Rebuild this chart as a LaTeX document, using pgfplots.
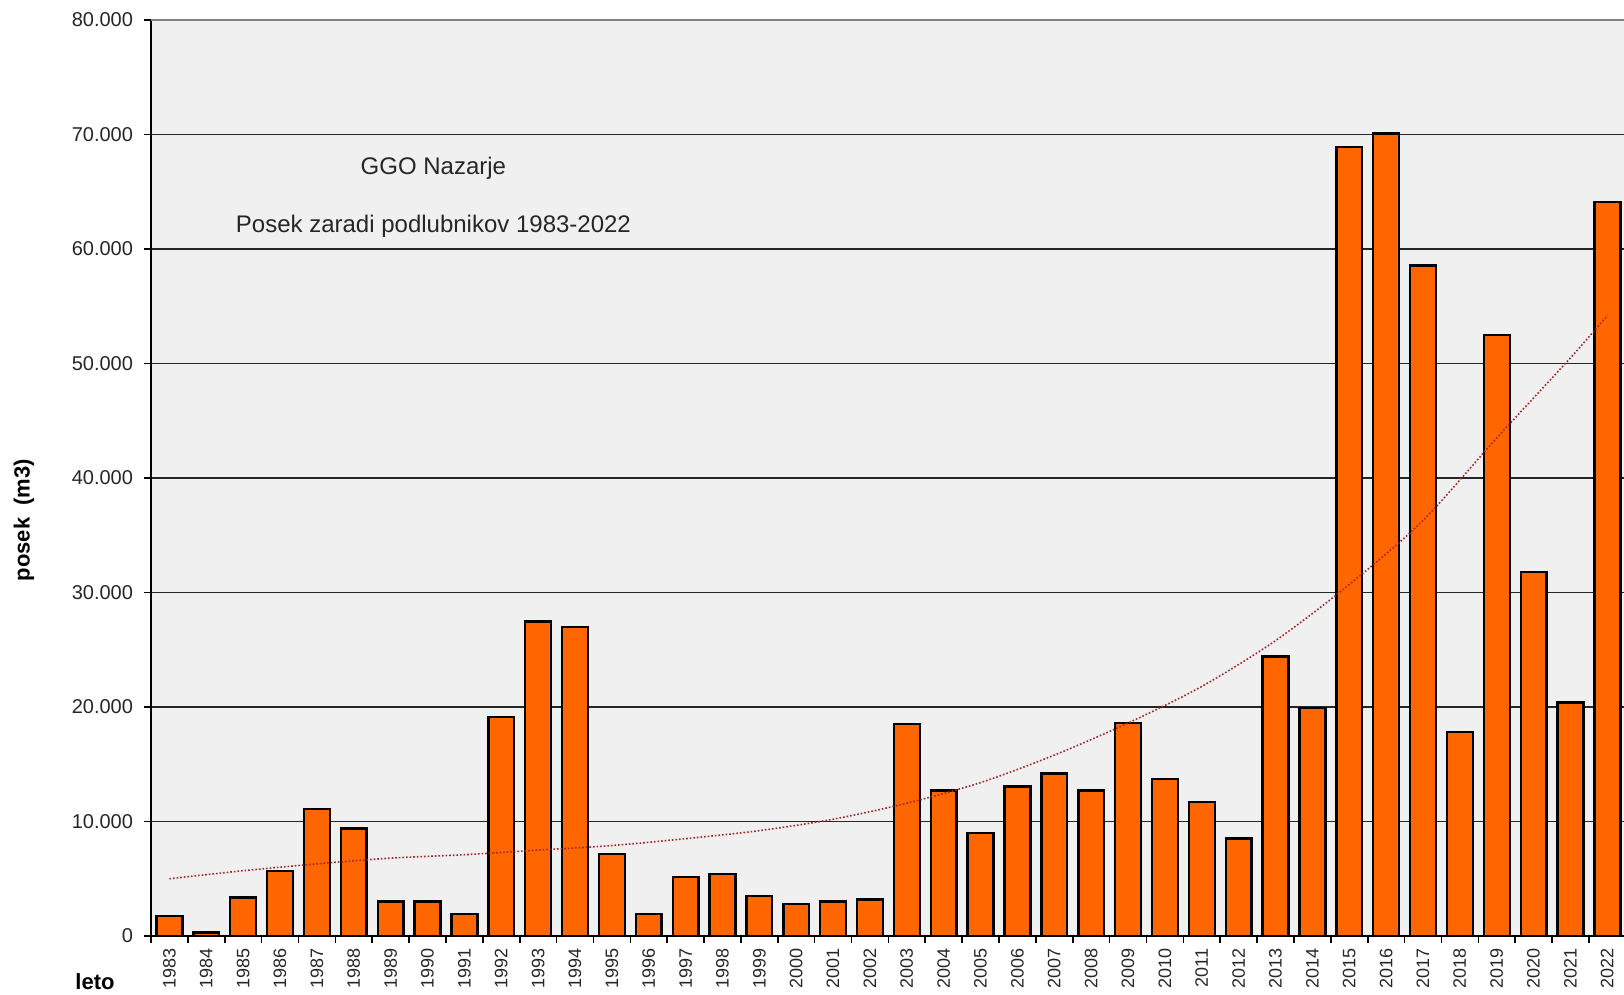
\documentclass[border=0pt]{standalone}
\usepackage{fontspec}
\setmainfont{Liberation Sans}
\usepackage{pgfplots}
\usepackage{pgfplotstable}
\pgfplotsset{compat=1.18}
\definecolor{barorange}{RGB}{255,102,0}
\definecolor{bgray}{RGB}{240,240,240}
\definecolor{trendred}{RGB}{165,40,40}

\pgfplotstableread{
year value
1983 1750
1984 300
1985 3350
1986 5700
1987 11100
1988 9400
1989 3000
1990 3000
1991 1900
1992 19150
1993 27450
1994 27000
1995 7150
1996 1900
1997 5150
1998 5400
1999 3500
2000 2800
2001 3000
2002 3200
2003 18500
2004 12700
2005 9000
2006 13050
2007 14200
2008 12700
2009 18600
2010 13700
2011 11700
2012 8500
2013 24400
2014 19900
2015 68900
2016 70100
2017 58550
2018 17800
2019 52500
2020 31800
2021 20400
2022 64100
}\posek

\pgfplotstableread{
year value
1983 5000
1985 5700
1987 6300
1989 6800
1991 7100
1993 7500
1995 7900
1997 8500
1999 9200
2001 10200
2003 11600
2005 13400
2007 15800
2009 18600
2011 21800
2013 25800
2015 30700
2017 36300
2019 43500
2021 50500
2022 54200
}\trend

\begin{document}
\begin{tikzpicture}
\begin{axis}[
  at={(0,0)}, anchor=south west,
  scale only axis, width=736.5pt, height=458pt,
  xmin=1982.5, xmax=2022.45, ymin=0, ymax=80000,
  axis x line*=bottom, axis y line*=left,
  axis line style={-, black, line width=0.8pt},
  every outer x axis line/.append style={-},
  every outer y axis line/.append style={-},
  axis background/.style={fill=bgray},
  ytick={0,10000,...,80000},
  xtick={1982.5,1983.5,...,2022.5},
  xticklabels={},
  extra x ticks={1983,1984,...,2022},
  extra x tick labels={1983,1984,1985,1986,1987,1988,1989,1990,1991,1992,1993,1994,1995,1996,1997,1998,1999,2000,2001,2002,2003,2004,2005,2006,2007,2008,2009,2010,2011,2012,2013,2014,2015,2016,2017,2018,2019,2020,2021,2022},
  extra x tick style={major tick length=0pt, xticklabel shift=2.7pt},
  tick align=outside,
  major tick length=3.5pt,
  major x tick style={draw=black, line width=0.8pt},
  major y tick style={black, line width=0.6pt},
  ymajorgrids,
  grid style={black!85, line width=0.6pt},
  /pgf/number format/assume math mode=true,
  yticklabel style={font=\fontsize{10}{12}\selectfont, text=black!85,
    /pgf/number format/1000 sep={.}, /pgf/number format/fixed},
  yticklabel shift=2pt,
  xticklabel style={font=\fontsize{9}{11}\selectfont, text=black!85,
    rotate=90, anchor=east},
  scaled y ticks=false,
  clip=true,
]
\addplot[ybar, bar width=0.7, fill=barorange, draw=black, line width=1.2pt]
  table[x=year, y=value] {\posek};
\addplot[trendred, densely dotted, line width=0.8pt, smooth, mark=none]
  table[x=year, y=value] {\trend};
\draw[gray, line width=1.2pt] (axis cs:1982.5,80000) -- (axis cs:2022.45,80000);
\node[font=\fontsize{12}{14}\selectfont, text=black!85] at (axis cs:1990.16,67070) {GGO Nazarje};
\node[font=\fontsize{12}{14}\selectfont, text=black!85] at (axis cs:1990.16,61950) {Posek zaradi podlubnikov 1983-2022};
\end{axis}
\node[font=\bfseries\fontsize{11}{13}\selectfont] at (-28pt,-23pt) {leto};
\node[font=\bfseries\fontsize{11}{13}\selectfont, rotate=90] at (-63.5pt,208pt) {posek\ \ (m3)};
\pgfresetboundingbox
\path[use as bounding box] (-75.5pt,-29.5pt) rectangle (736.5pt,468pt);
\end{tikzpicture}
\end{document}
